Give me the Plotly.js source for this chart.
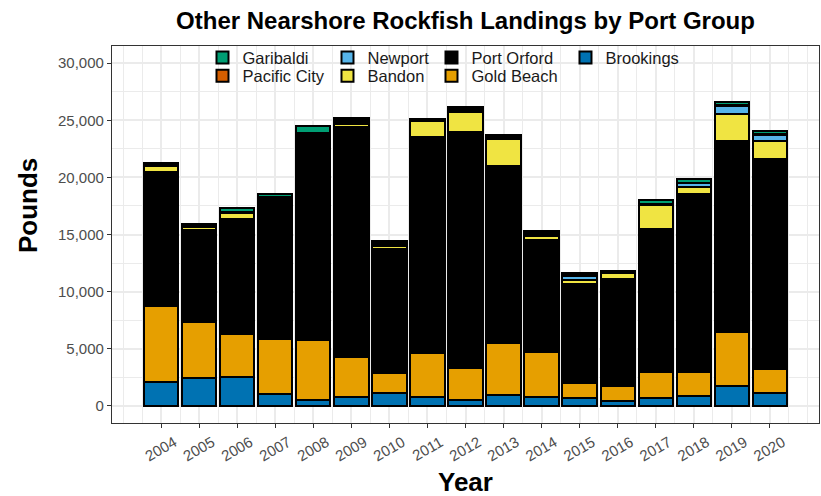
<!DOCTYPE html>
<html>
<head>
<meta charset="utf-8">
<script src="https://cdn.plot.ly/plotly-3.0.1.min.js"></script>
<style>html,body{margin:0;padding:0;background:#fff;}#chart{width:821px;height:496px;}</style>
</head>
<body>
<div id="chart"></div>
<script>
// Years (x categories)
const years = [2004, 2005, 2006, 2007, 2008, 2009, 2010, 2011, 2012, 2013, 2014, 2015, 2016, 2017, 2018, 2019, 2020];
// Landings in pounds by port group
const brookings   = [2100, 2430, 2500, 1030,  520,   820, 1090,  790,   500,   910,  740,  700,  440,   680,   850,  1700,  1170];
const goldBeach   = [6600, 4880, 3780, 4810, 5240,  3420, 1800, 3850,  2800,  4560, 3970, 1260, 1290,  2300,  2080,  4730,  2100];
const portOrford  = [11780, 8080, 10040, 12360, 18040, 20160, 10840, 18930, 20680, 15560, 9850, 8680, 9370, 12540, 15600, 16740, 18370];
const bandon      = [520,  290,  560,   60,   50,   290,  300, 1350,  1700,  2340,  310,  350,  560,  2100,   640,  2370,  1540];
const newport     = [100,   80,   45,   30,   30,   160,  120,   80,   170,   110,  130,  370,   60,    35,   320,   750,   500];
const pacificCity = [90,    60,   40,   20,   20,   160,  120,   70,   170,   100,  130,  110,   50,    35,    20,    60,   120];
const garibaldi   = [100,   70,  320,  260,  560,   160,  135,   80,   180,   110,  150,  130,   60,   310,   320,   290,   300];
const yTickVals = [0, 5000, 10000, 15000, 20000, 25000, 30000];

const FONT = 'Liberation Sans, Arial, sans-serif';
const series = [
  {name: 'Brookings',    y: brookings,   color: '#0072B2', legend: 'legend',  lw: 80},
  {name: 'Gold Beach',   y: goldBeach,   color: '#E69F00', legend: 'legend2', lw: 89},
  {name: 'Port Orford',  y: portOrford,  color: '#000000', legend: 'legend',  lw: 89},
  {name: 'Bandon',       y: bandon,      color: '#F0E442', legend: 'legend2', lw: 59},
  {name: 'Newport',      y: newport,     color: '#56B4E9', legend: 'legend',  lw: 59},
  {name: 'Pacific City', y: pacificCity, color: '#D55E00', legend: 'legend2', lw: 80},
  {name: 'Garibaldi',    y: garibaldi,   color: '#009E73', legend: 'legend',  lw: 80}
];

const traces = series.map(s => ({
  type: 'bar',
  name: s.name,
  x: years,
  y: s.y,
  width: 0.9,
  legend: s.legend,
  legendwidth: s.lw,
  marker: {color: s.color, line: {color: '#000000', width: 2}},
  hoverinfo: 'x+y+name'
}));

const legendCommon = {
  orientation: 'h',
  traceorder: 'reversed',
  xanchor: 'left',
  yanchor: 'top',
  bgcolor: 'rgba(0,0,0,0)',
  borderwidth: 0,
  font: {family: FONT, size: 16.5, color: '#1A1A1A'},
  itemclick: false,
  itemdoubleclick: false
};

const layout = {
  width: 821,
  height: 496,
  margin: {l: 112, r: 2, t: 46, b: 73},
  paper_bgcolor: '#FFFFFF',
  plot_bgcolor: '#FFFFFF',
  barmode: 'stack',
  font: {family: FONT, color: '#000000'},
  title: {
    text: '<b>Other Nearshore Rockfish Landings by Port Group</b>',
    font: {family: FONT, size: 24, color: '#000000'},
    x: 0.5, xref: 'paper', xanchor: 'center',
    y: 0.958, yref: 'container', yanchor: 'middle'
  },
  xaxis: {
    range: [2002.705, 2021.295],
    tickmode: 'array',
    tickvals: years,
    ticktext: years.map(String),
    tickangle: -30,
    ticklabelshift: 13,
    ticklabelstandoff: 0,
    ticks: 'outside', ticklen: 4, tickcolor: '#333333', tickwidth: 1,
    tickfont: {family: FONT, size: 15, color: '#4D4D4D'},
    showgrid: true, gridcolor: '#EBEBEB', gridwidth: 1.5,
    minor: {dtick: 0.5, tick0: 2003, showgrid: true, gridcolor: '#EBEBEB', gridwidth: 0.8, ticks: ''},
    showline: true, mirror: true, linecolor: '#333333', linewidth: 1.2,
    zeroline: false
  },
  yaxis: {
    range: [-1500, 31500],
    tickmode: 'array',
    tickvals: yTickVals,
    ticktext: yTickVals.map(v => v.toLocaleString('en-US')),
    ticks: 'outside', ticklen: 4, tickcolor: '#333333', tickwidth: 1,
    tickfont: {family: FONT, size: 15, color: '#4D4D4D'},
    showgrid: true, gridcolor: '#EBEBEB', gridwidth: 1.5,
    minor: {dtick: 2500, tick0: 0, showgrid: true, gridcolor: '#EBEBEB', gridwidth: 0.8, ticks: ''},
    showline: true, mirror: true, linecolor: '#333333', linewidth: 1.2,
    zeroline: false
  },
  legend: Object.assign({}, legendCommon, {x: 0.128, y: 1.015}),
  legend2: Object.assign({}, legendCommon, {x: 0.128, y: 0.9666}),
  annotations: [
    {text: '<b>Year</b>', xref: 'paper', yref: 'paper', x: 0.5, y: -0.156,
     xanchor: 'center', yanchor: 'middle', showarrow: false,
     font: {family: FONT, size: 26, color: '#000000'}},
    {text: '<b>Pounds</b>', xref: 'paper', yref: 'paper', x: -0.1188, y: 0.5756,
     xanchor: 'center', yanchor: 'middle', showarrow: false, textangle: -90,
     font: {family: FONT, size: 26, color: '#000000'}}
  ],
  showlegend: true
};

Plotly.newPlot('chart', traces, layout, {displayModeBar: false, staticPlot: false});
</script>
</body>
</html>
